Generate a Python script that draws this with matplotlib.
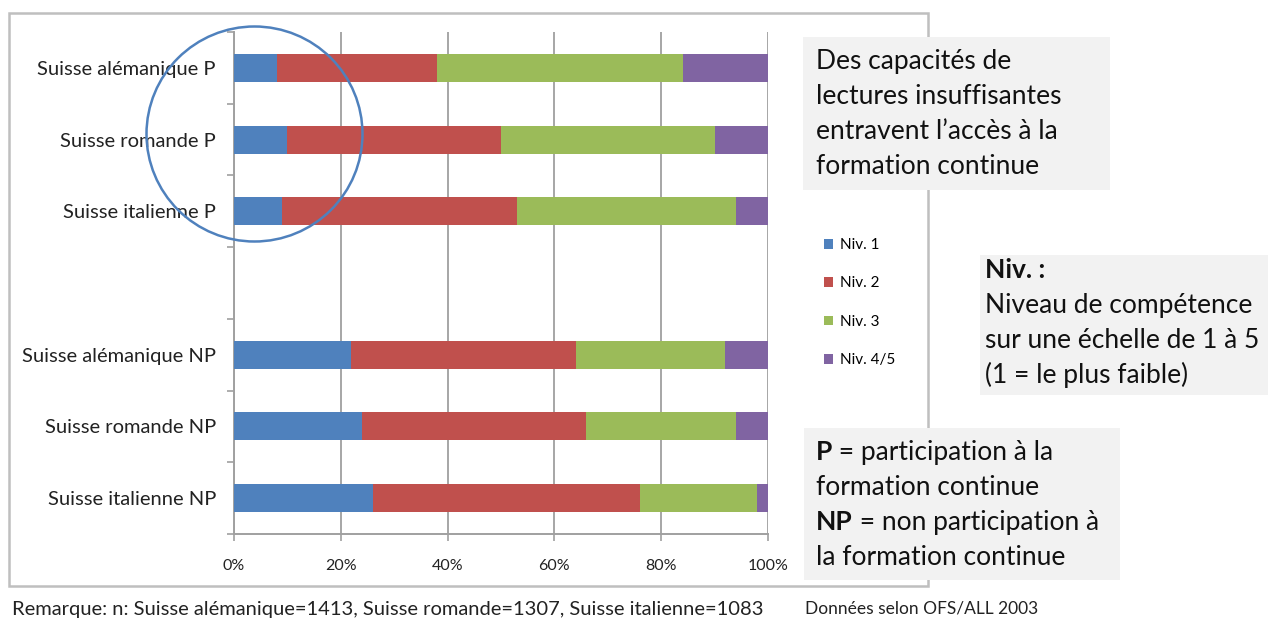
import matplotlib
matplotlib.use("Agg")
import matplotlib.pyplot as plt
from matplotlib.patches import Rectangle, Ellipse
import numpy as np

plt.rcParams['font.family'] = ['Lato', 'DejaVu Sans']

# ---------------- data ----------------
categories = ["Suisse alémanique P", "Suisse romande P", "Suisse italienne P",
              "Suisse alémanique NP", "Suisse romande NP", "Suisse italienne NP"]
series_names = ["Niv. 1", "Niv. 2", "Niv. 3", "Niv. 4/5"]
niv1 = [8, 10, 9, 22, 24, 26]
niv2 = [30, 40, 44, 42, 42, 50]
niv3 = [46, 40, 41, 28, 28, 22]
niv45 = [16, 10, 6, 8, 6, 2]
xticks = [0, 20, 40, 60, 80, 100]
xtick_labels = ["0%", "20%", "40%", "60%", "80%", "100%"]
colors = ["#4F81BD", "#C0504D", "#9BBB59", "#8064A2"]

W, H = 1268, 619
fig = plt.figure(figsize=(W / 100, H / 100), dpi=100)

def fx(x):
    return x / W

def fy(y):
    return 1 - y / H

ax_l, ax_r, ax_t, ax_b = 234, 768, 32, 534
ax = fig.add_axes([fx(ax_l), fy(ax_b), fx(ax_r) - fx(ax_l), fy(ax_t) - fy(ax_b)])

# 7 slots: 3 bars, empty slot, 3 bars
pos = [i if i < 3 else i + 1 for i in range(len(categories))]
left = np.zeros(len(categories))
bars = []
for vals, name, c in zip([niv1, niv2, niv3, niv45], series_names, colors):
    b = ax.barh(pos, vals, left=left, height=0.39, color=c, label=name, zorder=3)
    bars.append(b)
    left = left + np.array(vals)

ax.set_xlim(0, 100)
ax.set_ylim(6.5, -0.5)
ax.set_xticks(xticks)
ax.set_xticklabels(xtick_labels, fontsize=11.5, color="#222222")
ax.set_yticks(np.arange(-0.5, 7.0, 1.0))
ax.set_yticklabels([])
ax.set_yticks(pos, minor=True)
ax.set_yticklabels(categories, minor=True, fontsize=14.5, color="#222222")
ax.tick_params(axis='y', which='minor', length=0, pad=13)
ax.tick_params(axis='y', which='major', length=5, color="#A0A0A0", width=1.2)
ax.tick_params(axis='x', length=5, color="#A0A0A0", width=1.2, pad=13)
ax.xaxis.grid(True, color="#A6A6A6", linewidth=1.4, zorder=0)
ax.set_axisbelow(True)
for s in ["top", "right"]:
    ax.spines[s].set_visible(False)
for s in ["left", "bottom"]:
    ax.spines[s].set_color("#A0A0A0")
    ax.spines[s].set_linewidth(1.4)

# ---------------- overlay in pixel coordinates ----------------
ov = fig.add_axes([0, 0, 1, 1], zorder=5)
ov.set_xlim(0, W)
ov.set_ylim(H, 0)
ov.axis("off")
ov.patch.set_alpha(0)

# chart frame
ov.add_patch(Rectangle((9, 13), 919, 573, facecolor="none", edgecolor="#BFBFBF", lw=1.8, zorder=1))

# legend
ov.legend(handles=bars, labels=series_names, loc="upper left",
          bbox_to_anchor=(824, 238), bbox_transform=ov.transData,
          frameon=False, fontsize=11, handlelength=0.62, handleheight=0.62,
          handletextpad=0.45, labelspacing=1.6, borderpad=0, borderaxespad=0)

# ellipse annotation
ov.add_patch(Ellipse((254.5, 134), 216, 215, facecolor="none", edgecolor="#4F81BD", lw=1.8, zorder=6))

box_c = "#F2F2F2"
fs = 19
# Box 1
ov.add_patch(Rectangle((803, 37), 307, 153, facecolor=box_c, edgecolor="none", zorder=2))
for i, line in enumerate(["Des capacités de", "lectures insuffisantes",
                          "entravent l\u2019accès à la", "formation continue"]):
    ov.text(816, 69 + i * 35, line, fontsize=fs, va="baseline", ha="left", color="#111111", zorder=3)

# Box 2
ov.add_patch(Rectangle((980, 255), 288, 140, facecolor=box_c, edgecolor="none", zorder=2))
ov.text(985, 278, "Niv. :", fontsize=fs, fontweight="bold", va="baseline", ha="left", color="#111111", zorder=3)
for i, line in enumerate(["Niveau de compétence", "sur une échelle de 1 à 5", "(1 = le plus faible)"]):
    ov.text(985, 313 + i * 35, line, fontsize=fs, va="baseline", ha="left", color="#111111", zorder=3)

# Box 3
ov.add_patch(Rectangle((804, 428), 316, 152, facecolor=box_c, edgecolor="none", zorder=2))
lines3 = [("P", " = participation à la"), ("", "formation continue"),
          ("NP", " = non participation à"), ("", "la formation continue")]
for i, (b, rest) in enumerate(lines3):
    yb = 460 + i * 35
    if b:
        t = ov.text(816, yb, b, fontsize=fs, fontweight="bold", va="baseline", ha="left", color="#111111", zorder=3)
        ov.annotate(rest, xy=(1, yb), xycoords=(t, "data"), fontsize=fs, va="baseline", ha="left",
                    color="#111111", zorder=3)
    else:
        ov.text(816, yb, rest, fontsize=fs, va="baseline", ha="left", color="#111111", zorder=3)

# footer
ov.text(12, 609, "Remarque: n: Suisse alémanique=1413, Suisse romande=1307, Suisse italienne=1083",
        fontsize=14.5, va="center", ha="left", color="#222222")
ov.text(805, 609, "Données selon OFS/ALL 2003", fontsize=12.5, va="center", ha="left", color="#222222")

fig.savefig("out.png", dpi=100)
